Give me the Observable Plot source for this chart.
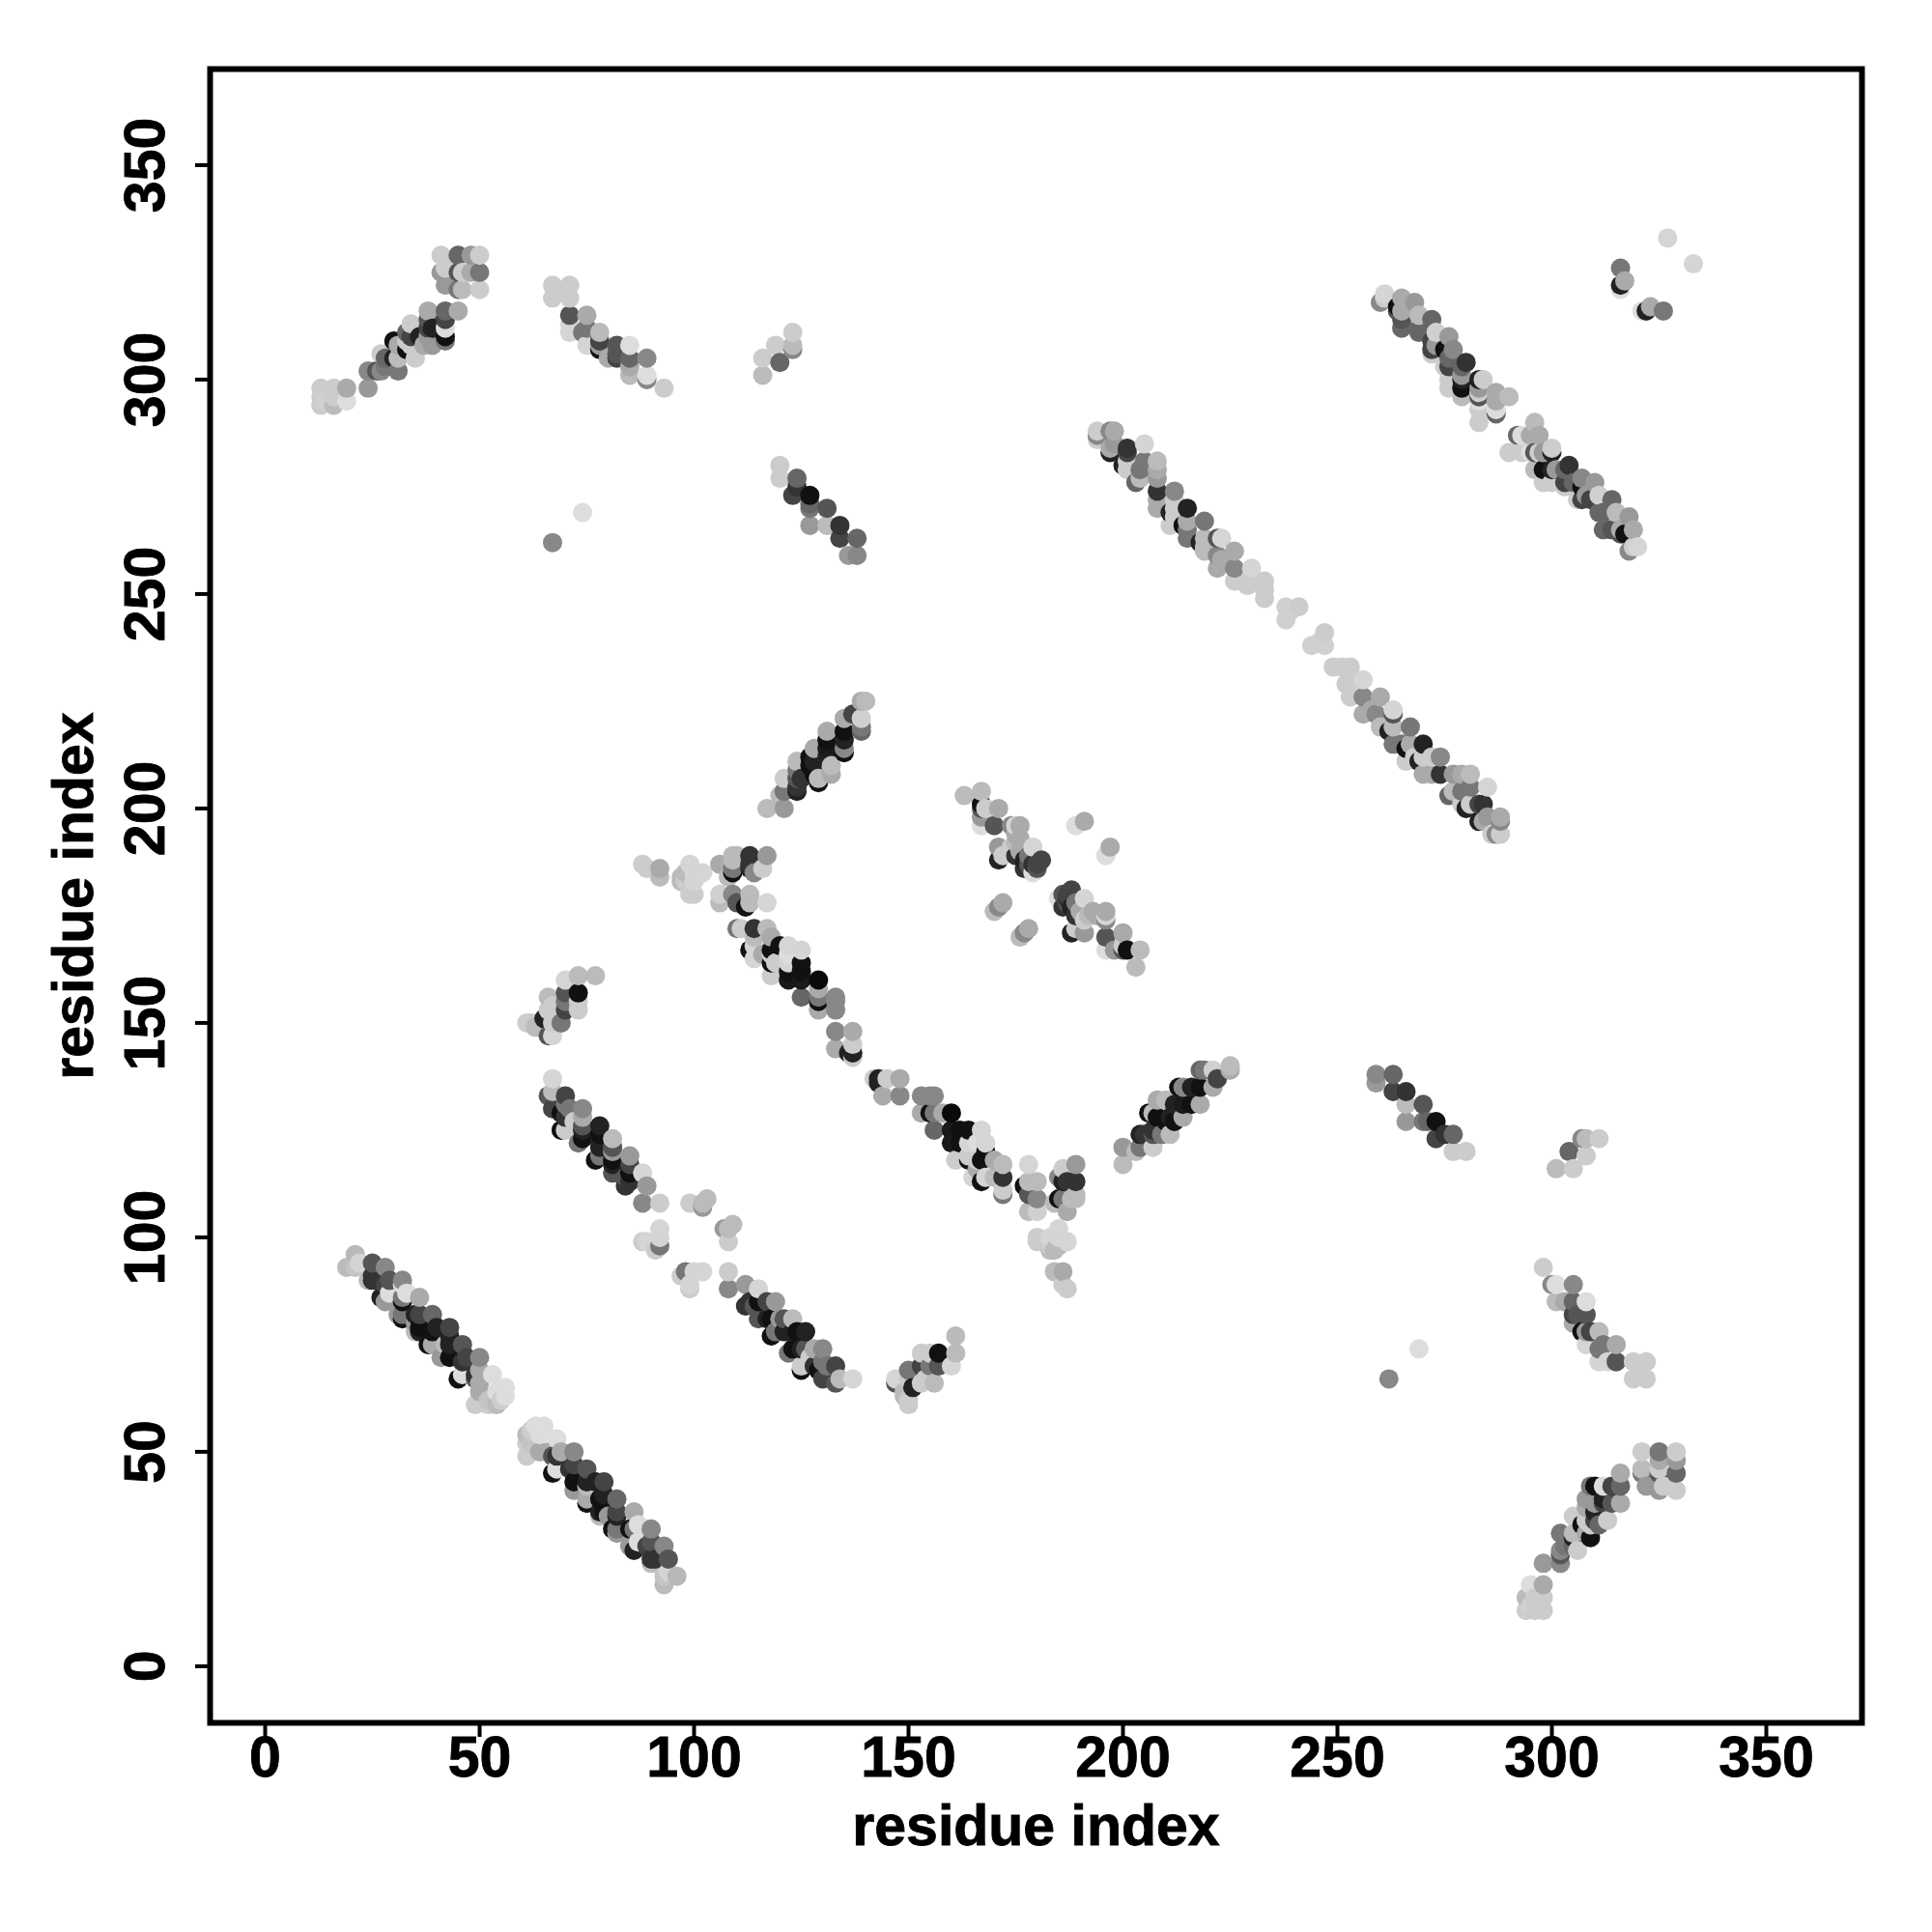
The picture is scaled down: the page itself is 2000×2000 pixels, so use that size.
<!DOCTYPE html>
<html>
<head>
<meta charset="utf-8">
<script src="https://cdn.jsdelivr.net/npm/d3@7"></script>
<script src="https://cdn.jsdelivr.net/npm/@observablehq/plot@0.6"></script>
<style>html,body{margin:0;padding:0;background:#fff}svg{display:block}svg text{stroke:#000;stroke-width:0.9px}</style>
</head>
<body>
<div id="chart"></div>
<script>
// each contact: residue i, residue j (i < j), grey level of its dot
const bandA = [[19,93,0xbb],[21,96,0xb8],[21,93,0xc4],[22,94,0xd4],[24,90,0xbb],[25,94,0x55],[25,90,0x33],[25,91,0x33],[28,93,0x88],[28,89,0x44],[29,90,0x55],[32,90,0x88],[32,89,0xdd],
 [27,86,0x22],[28,85,0x99],[29,87,0xdd],[32,85,0x11],[32,86,0x77],[33,87,0xdd],[36,86,0xaa],[31,82,0x99],[32,81,0x11],[32,82,0x77],[35,80,0x99],[35,82,0x22],[36,79,0x11],[36,82,0x44],[39,82,0x66],[35,78,0xbb],[36,78,0x22],
 [39,78,0x11],[40,79,0x22],[43,79,0x44],[38,75,0x11],[39,75,0xaa],[42,75,0xbb],[43,75,0x22],[43,77,0x22],[46,75,0x55],[41,72,0x99],[43,72,0x11],[46,71,0x33],[47,72,0x44],[50,72,0x88],
 [45,67,0x11],[46,68,0xdd],[49,67,0x55],[49,68,0x33],[50,69,0xaa],[53,68,0xdd],[50,64,0xaa],[50,66,0xaa],[49,61,0xcc],[52,62,0xc4],[52,61,0xcc],[54,64,0xdd],[56,65,0xdd],[54,61,0xbb],[55,62,0xcc],[56,63,0xdd]];
const bandB = [[13,298,0xcc],[13,294,0xcc],[13,296,0xcc],[14,295,0xd0],[16,298,0xcc],[16,294,0xbb],[16,296,0xcc],[19,298,0xaa],[19,295,0xdd],[24,298,0x99],[24,302,0x88],[26,302,0x55],[27,302,0x88],[28,303,0x77],[31,302,0x77],[27,306,0xcc],[28,305,0x66],
 [30,305,0x22],[31,305,0xbb],[35,305,0xcc],[30,309,0x11],[31,308,0xaa],[33,307,0x11],[33,309,0xcc],[34,308,0xcc],[33,311,0x66],[34,310,0x44],[34,313,0xcc],[36,310,0x22],[38,316,0xaa],[42,316,0x66],[45,316,0xaa],[38,314,0x55],[42,314,0x44],[38,312,0x44],[38,310,0x99],[39,312,0x22],[42,310,0x11],[42,312,0xdd],[42,309,0x77],[39,308,0x99],[37,308,0xaa],
 [41,329,0xcc],[45,329,0x66],[48,329,0x99],[50,329,0xcc],[41,325,0x99],[42,326,0xcc],[45,325,0x55],[46,325,0xcc],[48,325,0xaa],[50,325,0x77],[42,322,0x99],[45,321,0x77],[46,321,0xbb],[50,321,0xcc]];
const bandC = [[67,322,0xcc],[68,321,0xcc],[71,322,0xcc],[67,319,0xcc],[71,319,0xcc],[71,315,0x55],[71,311,0xd5],[71,313,0xd5],[75,315,0xaa],[74,311,0x77],[75,312,0x77],[75,308,0xd5],[78,307,0x11],[78,308,0x99],[78,309,0x44],[78,311,0xbb],[82,308,0x55],[82,306,0x55],[82,305,0x44],[80,305,0xaa],[85,308,0xdd],[85,305,0x66],[85,303,0xaa],[89,305,0x88],[85,301,0xbb],[89,300,0x88],[89,301,0xdd],[93,298,0xcc]];
const bandD = [[116,301,0xbb],[116,305,0xcc],[120,304,0x66],[119,308,0xcc],[123,307,0x88],[123,308,0xbb],[123,311,0xcc]];
const bandE = [[120,280,0xcc],[120,277,0xcc],[124,277,0x66],[124,275,0x33],[123,273,0x44],[127,273,0x11],[127,271,0x66],[127,270,0x77],[131,270,0x55],[127,266,0x99],[131,266,0xbb],[134,266,0x33],[134,263,0x44],[138,263,0x66],[136,259,0x99],[138,259,0x88]];
const bandF = [[67,262,0x88],[74,269,0xdd]];
const bandG = [[194,286,0xcc],[194,287,0x88],[194,288,0xcc],[197,288,0x88],[198,288,0xaa],[197,283,0x22],[197,284,0xaa],[198,285,0x99],[201,283,0x44],[201,284,0x33],[205,285,0xd5],[200,280,0x22],[201,281,0xcc],[201,279,0xcc],[204,279,0x77],[205,281,0x77],[208,281,0xbb],[203,276,0x66],[204,277,0xbb],[208,277,0x99],[208,279,0xaa],
 [208,274,0x33],[208,272,0xaa],[212,274,0x88],[211,269,0x22],[212,270,0xcc],[212,272,0xcc],[208,270,0xaa],[215,270,0x22],[211,266,0xcc],[212,268,0xcc],[214,266,0x11],[215,267,0xaa],[215,265,0x77],[219,267,0x77],[215,263,0x77],[218,262,0x22],[219,263,0xbb],[219,261,0xbb],[222,263,0x55],[223,263,0xd5],[219,260,0xbb],[222,259,0x88],[222,256,0xaa],[223,258,0xaa],[226,260,0xaa],[226,256,0x88],[230,256,0xd5],[226,253,0xcc],[229,252,0xcc],[230,254,0xcc],[233,253,0xcc],[233,251,0xcc],[233,249,0xcc],[238,244,0xd0],[238,247,0xd0],[239,246,0xd0],[241,247,0xcc]];
const bandH = [[260,318,0x88],[261,319,0xcc],[261,320,0xd5],[264,316,0x55],[264,317,0x11],[265,316,0xaa],[265,319,0xaa],[268,318,0x99],[265,312,0x66],[265,314,0x55],[269,312,0x66],[269,315,0xbb],[272,314,0x66],[269,311,0x66],[272,309,0x44],[273,308,0x99],[273,311,0xd0],[276,310,0x99],[272,306,0xcc],[272,307,0x44],[275,307,0x11],[277,307,0x88],[280,304,0x33],[275,303,0xcc],[276,303,0x44],[276,305,0x66],[279,303,0x66],[279,301,0x99],[276,298,0xcc],[276,300,0xcc],[279,298,0x11],[279,300,0x22],[283,298,0x99],[283,300,0x22],[284,300,0xcc],[279,296,0xbb],[283,295,0xdd],[283,296,0x55],[283,297,0xcc],[287,295,0xaa],[287,297,0xaa],[290,296,0xbb],[283,293,0xcc],[287,292,0x66],[287,293,0xdd],[283,290,0xcc]];
const bandI = [[316,326,0x77],[316,321,0xdd],[316,322,0x22],[317,323,0xaa],[327,333,0xd5]];
const bandJ = [[117,200,0xbb],[121,200,0x99],[120,203,0xbb],[121,204,0x77],[124,204,0x22],[124,205,0x33],[121,207,0xcc],[124,207,0x55],[124,209,0x77],[125,207,0x33],[128,208,0x11],[129,206,0x11],[129,207,0xbb],[124,211,0xbb],[127,210,0x11],[127,212,0x11],[128,211,0x22],[128,214,0xaa],[131,212,0x22],[131,214,0x1a],[131,216,0x11],[132,208,0xaa],[132,210,0xbb],[131,218,0xaa],[135,216,0x22],[135,218,0x11],[135,213,0x11],[135,214,0x88],[135,221,0xaa],[139,218,0x66],[139,219,0x77],[137,222,0x44],[139,221,0xd0],[139,225,0xaa],[140,225,0xbb]];
const bandK = [[88,187,0xcc],[89,186,0xcc],[92,186,0xaa],[92,184,0xbb],[97,184,0xbb],[97,183,0xbb],[98,185,0xbb],[98,183,0xcc],[99,187,0xd5],[100,185,0xd5],[102,185,0xd5],[99,180,0xcc],[100,180,0xcc],[100,183,0xd5],[106,187,0xaa],[108,184,0xbb],[109,185,0x11],[109,186,0x77],[109,188,0xbb],[109,189,0xbb],[110,189,0xbb],[113,189,0x33],[113,187,0x33],[113,186,0x22],[114,185,0x88],[116,186,0xcc],[117,189,0x99],
 [106,180,0xd0],[106,178,0xbb],[109,180,0x88],[110,178,0x55],[112,177,0x11],[113,178,0xbb],[113,180,0xbb],[117,178,0xd5]];
const bandL = [[110,172,0x77],[111,172,0xcc],[114,172,0x33],[117,172,0xbb],[113,167,0x11],[114,168,0xd5],[114,170,0xbb],[114,165,0xd5],[116,166,0xaa],[118,166,0xcc],[118,170,0xaa],[118,167,0x11],[118,164,0x11],[119,164,0xcc],[118,161,0xcc],[120,168,0x11],[122,168,0xd5],[125,167,0xd5],[122,166,0xdd],[122,164,0xd5],[122,162,0x11],[122,160,0x1a],[125,164,0x11],[125,162,0x11],[125,160,0x1a],[129,160,0x0a],[129,158,0xaa],[125,156,0x66],[129,156,0x77],[129,155,0x11],[129,153,0xaa],[133,156,0x88],[133,155,0x88],[133,153,0x88],[133,148,0x88],[137,148,0xaa],[133,144,0xaa],[136,143,0x22],[137,142,0xcc],[137,143,0x22],[137,145,0xcc]];
const bandM = [[77,161,0xbb],[73,161,0xbb],[70,160,0xd5],[73,157,0x11],[70,157,0x55],[66,156,0xbb],[67,154,0xcc],[73,153,0xcc],[73,155,0xcc],[70,155,0x77],[70,153,0x44],[69,150,0x77],[66,153,0xcc],[65,151,0x22],[66,147,0x55],[67,147,0xd5],[61,150,0xcc],[62,150,0xcc],[63,149,0xbb],[64,149,0xbb],[67,150,0xcc]];
const bandN = [[67,137,0xd5],[66,133,0x55],[67,134,0xbb],[70,133,0x44],[67,130,0x44],[69,129,0x11],[70,131,0x77],[70,128,0x33],[71,130,0x77],[72,127,0xcc],[74,130,0x88],[74,128,0xaa],[69,125,0x11],[70,125,0xcc],[74,126,0x55],[74,125,0x22],[78,126,0x22],[78,124,0x11],[74,123,0x11],[73,122,0x77],[78,123,0x22],[78,121,0x22],[81,123,0xbb],[77,118,0x11],[78,119,0x77],[81,118,0x11],[81,120,0x99],[81,121,0x55],[81,117,0x22],[81,115,0x55],[85,119,0x99],[85,117,0x44],[85,115,0x11],[85,113,0x33],[84,114,0x55],[84,112,0x33],[88,115,0xd5],[89,112,0x99],[88,108,0x88],[92,108,0xcc]];
const bandO = [[88,99,0xcc],[89,99,0xd5],[91,97,0xcc],[92,98,0x77],[92,100,0xd5],[92,102,0xd5],[99,108,0xcc],[102,107,0x99],[102,108,0xbb],[103,109,0xbb]];
const bandP = [[163,203,0xbb],[167,204,0xbb],[167,201,0x11],[167,200,0x55],[167,198,0x99],[168,200,0xcc],[171,200,0xaa],[167,196,0xdd],[170,196,0x55],[174,196,0x88],[175,196,0xd5],[176,196,0xaa],[171,188,0x22],[171,191,0x99],[172,189,0xcc],[174,191,0xcc],[175,192,0xbb],[175,194,0xaa],[176,193,0xaa],[175,189,0x33],[176,190,0xaa],[177,186,0x33],[177,188,0x22],[178,187,0x55],[178,189,0x77],[179,191,0xd5],[179,187,0x33],[179,185,0xdd],[180,186,0x55],[180,187,0x44],[181,188,0x44],
 [170,176,0xbb],[171,177,0x88],[172,178,0xaa],[189,196,0xdd],[191,197,0xaa]];

const bands = [bandA, bandB, bandC, bandD, bandE, bandF, bandG, bandH, bandI, bandJ, bandK, bandL, bandM, bandN, bandO, bandP];
const tickValues = [0, 50, 100, 150, 200, 250, 300, 350];

// a contact map is symmetric: every pair is drawn on both sides of the diagonal
const contacts = bands.flat().flatMap(([i, j, g]) => [{x: i, y: j, g}, {x: j, y: i, g}]);
contacts.sort((a, b) => d3.ascending(a.x, b.x) || d3.ascending(a.y, b.y));

const chart = Plot.plot({
  width: 2000,
  height: 2000,
  marginLeft: 217,
  marginRight: 73,
  marginTop: 71,
  marginBottom: 217,
  style: {fontFamily: "Liberation Sans", color: "#000", background: "#fff"},
  x: {domain: [-12.84, 372.3]},
  y: {domain: [-13.2, 372.4]},
  color: {type: "linear", domain: [0, 255], range: ["#000", "#fff"]},
  marks: [
    Plot.dot(contacts, {x: "x", y: "y", r: 10, fill: "g", stroke: "none"}),
    Plot.frame({stroke: "#000", strokeWidth: 6}),
    Plot.axisX({ticks: tickValues, tickSize: 15, tickPadding: -1, strokeWidth: 4, fontSize: 59, fontWeight: "bold",
      label: "residue index", labelAnchor: "center", labelArrow: "none", labelOffset: 126}),
    Plot.axisY({ticks: tickValues, tickSize: 15, tickPadding: 33, strokeWidth: 4, fontSize: 59, fontWeight: "bold", tickRotate: -90,
      label: "residue index", labelAnchor: "center", labelArrow: "none", labelOffset: 163})
  ]
});
document.getElementById("chart").appendChild(chart);
</script>
</body>
</html>
